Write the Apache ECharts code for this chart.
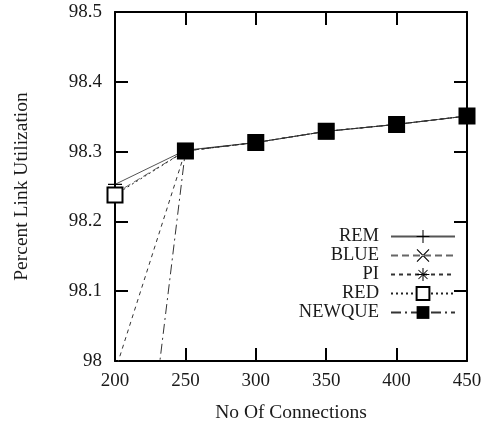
<!DOCTYPE html>
<html>
<head>
<meta charset="utf-8">
<script src="https://cdn.jsdelivr.net/npm/echarts@6/dist/echarts.min.js"></script>
<style>
  html, body { margin: 0; padding: 0; background: #fff; }
  #chart { width: 489px; height: 428px; }
</style>
</head>
<body>
<div id="chart"></div>
<script>
// Percent link utilization vs number of connections
var connections = [200, 250, 300, 350, 400, 450];
var remVals    = [98.253, 98.302, 98.313, 98.329, 98.339, 98.351];
var blueVals   = [98.240, 98.301, 98.313, 98.329, 98.339, 98.351];
var piVals     = [97.985, 98.301, 98.313, 98.329, 98.339, 98.351];
var redVals    = [98.238, 98.301, 98.313, 98.329, 98.339, 98.351];
var newqueVals = [97.470, 98.301, 98.313, 98.329, 98.339, 98.351];
var seriesNames = ['REM', 'BLUE', 'PI', 'RED', 'NEWQUE'];

(function () {
  var font = '"Liberation Serif", "DejaVu Serif", serif';
  var ink = '#000';
  var text = '#1a1a1a';

  var plus = 'path://M-0.8,-10H0.8V10H-0.8Z M-10,-0.8H10V0.8H-10Z';
  var cross = 'path://M-10,-8.8L-8.8,-10L10,8.8L8.8,10Z M10,-8.8L8.8,-10L-10,8.8L-8.8,10Z';
  var star = 'path://M-0.8,-10H0.8V10H-0.8Z M-10,-0.8H10V0.8H-10Z M-7.6,-6.6L-6.6,-7.6L7.6,6.6L6.6,7.6Z M7.6,-6.6L6.6,-7.6L-7.6,6.6L-6.6,7.6Z';

  function pairs(vals) {
    return connections.map(function (x, i) { return [x, vals[i]]; });
  }

  function line(name, vals, symbol, size, dash, color) {
    return {
      name: name,
      type: 'line',
      data: pairs(vals),
      symbol: symbol,
      symbolSize: size,
      showAllSymbol: true,
      clip: true,
      z: 3,
      lineStyle: { color: color, width: 1, type: dash },
      itemStyle: { color: ink, borderColor: ink, borderWidth: symbol === 'emptyRect' ? 1 : 0 }
    };
  }

  var chart = echarts.init(document.getElementById('chart'), null, { renderer: 'canvas' });

  var tickCommon = {
    axisLine: { show: true, lineStyle: { color: ink, width: 2 } },
    axisTick: { show: true, inside: true, length: 13, lineStyle: { color: ink, width: 2 } },
    splitLine: { show: false }
  };

  chart.setOption({
    animation: false,
    backgroundColor: '#fff',
    grid: { left: 115, right: 22, top: 12, bottom: 66 },
    legend: {
      orient: 'vertical',
      align: 'right',
      right: 28,
      top: 222,
      itemWidth: 64,
      itemHeight: 16,
      itemGap: 0,
      textStyle: { fontFamily: font, fontSize: 18.5, color: text, lineHeight: 18, padding: [0, 7, 0, 0] },
      data: seriesNames
    },
    xAxis: [
      Object.assign({
        type: 'value', min: 200, max: 450, interval: 50,
        name: 'No Of Connections', nameLocation: 'middle', nameGap: 42,
        nameTextStyle: { fontFamily: font, fontSize: 19.5, color: text },
        axisLabel: { fontFamily: font, fontSize: 19, color: text, margin: 11 }
      }, tickCommon),
      Object.assign({
        type: 'value', min: 200, max: 450, interval: 50, position: 'top',
        axisLabel: { show: false }
      }, tickCommon)
    ],
    yAxis: [
      Object.assign({
        type: 'value', min: 98, max: 98.5, interval: 0.1,
        name: 'Percent Link Utilization', nameLocation: 'middle', nameGap: 83,
        nameTextStyle: { fontFamily: font, fontSize: 19.5, color: text },
        axisLabel: {
          fontFamily: font, fontSize: 19, color: text, margin: 13,
          formatter: function (v) { return String(+v.toFixed(1)); }
        }
      }, tickCommon),
      Object.assign({
        type: 'value', min: 98, max: 98.5, interval: 0.1, position: 'right',
        axisLabel: { show: false }
      }, tickCommon)
    ],
    series: [
      line('REM', remVals, plus, 14, 'solid', '#555'),
      line('BLUE', blueVals, cross, 14, [7, 4], '#666'),
      line('PI', piVals, star, 14, [4, 4], '#333'),
      line('RED', redVals, 'emptyRect', 15, [2, 3], '#222'),
      line('NEWQUE', newqueVals, 'rect', 16, [10, 4, 2, 4], '#333')
    ]
  });
})();
</script>
</body>
</html>
